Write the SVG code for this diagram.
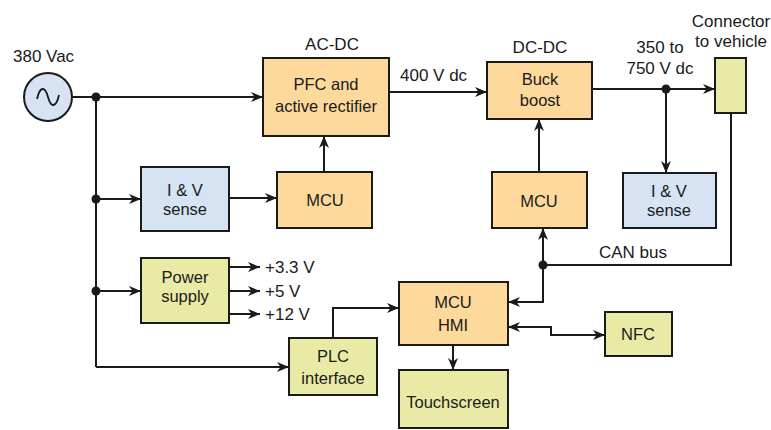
<svg xmlns="http://www.w3.org/2000/svg" width="771" height="430" viewBox="0 0 771 430">
<style>
text{font-family:"Liberation Sans",Arial,sans-serif;fill:#1a1a1a}
.lbl{font-size:17px}
.bx{font-size:16.5px;text-anchor:middle}
.c{text-anchor:middle}
.box{stroke:#1a1a1a;stroke-width:2}
.or{fill:#FDD99B}
.bl{fill:#D6E3F3}
.yl{fill:#EAEAA7}
.ln{fill:none;stroke:#1a1a1a;stroke-width:2}
.ar{marker-end:url(#ah)}
.dot{fill:#1a1a1a}
</style>
<defs>
<marker id="ah" markerUnits="userSpaceOnUse" markerWidth="13" markerHeight="11" refX="12" refY="5" orient="auto-start-reverse" viewBox="0 0 13 10">
<path d="M0,0 L12,5 L0,10 L3.5,5 z" fill="#1a1a1a"/>
</marker>
</defs>
<rect width="771" height="430" fill="#ffffff"/>

<g id="connectors">
<path class="ln ar" d="M72,97 H263"/>
<path class="ln" d="M96,97 V367"/>
<path class="ln ar" d="M96,199 H141"/>
<path class="ln ar" d="M229,198 H277"/>
<path class="ln ar" d="M324,172 V136"/>
<path class="ln ar" d="M389,92 H487"/>
<path class="ln ar" d="M592,89 H715"/>
<path class="ln ar" d="M666,89 V173"/>
<path class="ln ar" d="M539,172 V119"/>
<path class="ln" d="M731,113 V265 H543"/>
<path class="ln ar" d="M543,265 V228"/>
<path class="ln ar" d="M543,265 V302 H508"/>
<path class="ln ar" d="M96,291 H141"/>
<path class="ln ar" d="M229,267 H260"/>
<path class="ln ar" d="M229,291 H260"/>
<path class="ln ar" d="M229,314 H260"/>
<path class="ln ar" d="M96,367 H289"/>
<path class="ln ar" d="M333,338 V308 H399"/>
<path class="ln ar" d="M453,345 V370"/>
<path class="ln ar" d="M508,327 H551 V335 H605" marker-start="url(#ah)"/>
<circle class="dot" cx="96" cy="97" r="4.5"/>
<circle class="dot" cx="96" cy="199" r="4.5"/>
<circle class="dot" cx="96" cy="291" r="4.5"/>
<circle class="dot" cx="666" cy="89" r="4.5"/>
<circle class="dot" cx="543" cy="265" r="4.5"/>
</g>

<g id="source">
<circle cx="48" cy="97" r="24" fill="#D6E3F3" stroke="#1a1a1a" stroke-width="2"/>
<path d="M37,99 C40,86 45,86 48,97 C51,108 56,108 59,95" fill="none" stroke="#1a1a1a" stroke-width="1.8"/>
<text class="lbl" x="13" y="62">380 Vac</text>
</g>

<g id="pfc">
<rect class="box or" x="263" y="58" width="126" height="78"/>
<text class="lbl c" x="332" y="50">AC-DC</text>
<text class="bx" x="326" y="90">PFC and</text>
<text class="bx" x="326" y="112">active rectifier</text>
</g>
<text class="lbl" x="400" y="81">400 V dc</text>

<g id="buck">
<rect class="box or" x="487" y="62" width="105" height="57"/>
<text class="lbl c" x="540" y="53">DC-DC</text>
<text class="bx" x="540" y="85">Buck</text>
<text class="bx" x="540" y="106">boost</text>
</g>
<text class="lbl c" x="660" y="53">350 to</text>
<text class="lbl c" x="660" y="74">750 V dc</text>

<g id="connector">
<rect class="box yl" x="715" y="58" width="31" height="55"/>
<text class="lbl c" x="731" y="27">Connector</text>
<text class="lbl c" x="731" y="47">to vehicle</text>
</g>

<g id="iv-left">
<rect class="box bl" x="141" y="167" width="88" height="64"/>
<text class="bx" x="185" y="196">I &amp; V</text>
<text class="bx" x="185" y="215">sense</text>
</g>

<g id="mcu-left">
<rect class="box or" x="277" y="172" width="95" height="56"/>
<text class="bx" x="325" y="206">MCU</text>
</g>

<g id="mcu-right">
<rect class="box or" x="492" y="172" width="95" height="56"/>
<text class="bx" x="539" y="207">MCU</text>
</g>

<g id="iv-right">
<rect class="box bl" x="623" y="173" width="93" height="55"/>
<text class="bx" x="669" y="197">I &amp; V</text>
<text class="bx" x="669" y="216">sense</text>
</g>
<text class="lbl" x="599" y="258">CAN bus</text>

<g id="power">
<rect class="box yl" x="141" y="258" width="88" height="65"/>
<text class="bx" x="185" y="283">Power</text>
<text class="bx" x="185" y="302">supply</text>
</g>
<text class="lbl" x="265" y="273">+3.3 V</text>
<text class="lbl" x="265" y="297">+5 V</text>
<text class="lbl" x="265" y="320">+12 V</text>

<g id="plc">
<rect class="box yl" x="289" y="338" width="88" height="57"/>
<text class="bx" x="333" y="362">PLC</text>
<text class="bx" x="333" y="384">interface</text>
</g>

<g id="hmi">
<rect class="box or" x="399" y="282" width="109" height="63"/>
<text class="bx" x="453" y="308">MCU</text>
<text class="bx" x="453" y="331">HMI</text>
</g>

<g id="nfc">
<rect class="box yl" x="605" y="312" width="67" height="44"/>
<text class="bx" x="638" y="340">NFC</text>
</g>

<g id="touch">
<rect class="box yl" x="399" y="370" width="109" height="58"/>
<text class="bx" x="453" y="408">Touchscreen</text>
</g>
</svg>
